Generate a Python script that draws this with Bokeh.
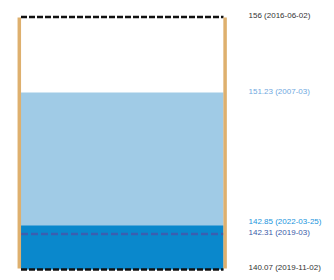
from bokeh.plotting import figure
from bokeh.models import ColumnDataSource, Range1d
from bokeh.embed import file_html
from bokeh.resources import INLINE
from bokeh.core.properties import value

# Data
max_level = 156.0
max_date = "2016-06-02"
min_level = 140.07
min_date = "2019-11-02"
hist_level = 151.23
hist_date = "2007-03"
current_level = 142.85
current_date = "2022-03-25"
ref_level = 142.31
ref_date = "2019-03"

W, H = 334, 280
p = figure(width=W, height=H, output_backend="svg", toolbar_location=None,
           x_range=Range1d(0, W), y_range=Range1d(139.376, 157.041),
           min_border=0, min_border_left=0, min_border_right=0,
           min_border_top=0, min_border_bottom=0)
p.axis.visible = False
p.grid.visible = False
p.outline_line_color = None
p.background_fill_color = "white"

xl, xr = 20.5, 223.0

# fills
p.quad(left=[xl], right=[xr], bottom=[min_level], top=[hist_level],
       fill_color="#a0cbe6", line_color=None)
p.quad(left=[xl], right=[xr], bottom=[min_level], top=[current_level],
       fill_color="#0a88cc", line_color=None)

# dashed lines
p.segment(x0=[xl], x1=[xr], y0=[max_level], y1=[max_level],
          line_color="#111111", line_width=2.5, line_dash="6 2")
p.segment(x0=[xl], x1=[xr], y0=[min_level], y1=[min_level],
          line_color="#111111", line_width=2.5, line_dash="6 2")
p.segment(x0=[xl], x1=[xr], y0=[ref_level], y1=[ref_level],
          line_color="#3a5fb0", line_width=2.5, line_dash="7 3")

# walls
p.segment(x0=[18.8, 224.6], x1=[18.8, 224.6], y0=[min_level + 0.06] * 2,
          y1=[max_level - 0.03] * 2, line_color="#deb06e", line_width=3.5)

# labels
levels = [max_level, hist_level, current_level, ref_level, min_level]
dates = [max_date, hist_date, current_date, ref_date, min_date]
colors = ["#333333", "#6fa8e0", "#1a95dd", "#3a5aa8", "#333333"]
offsets = [0.12, 0.1, 0.25, 0.1, 0.15]
src = ColumnDataSource(dict(
    x=[248] * 5,
    y=[l + o for l, o in zip(levels, offsets)],
    t=[f"{l:g} ({d})" if l != 142.85 else f"{l:.2f} ({d})" for l, d in zip(levels, dates)],
    c=colors))
p.text(x="x", y="y", text="t", text_color="c", source=src,
       text_font=value("Liberation Sans"), text_font_size="8px",
       text_baseline="alphabetic", text_align="left")

open("out.html", "w").write(file_html(p, INLINE))
